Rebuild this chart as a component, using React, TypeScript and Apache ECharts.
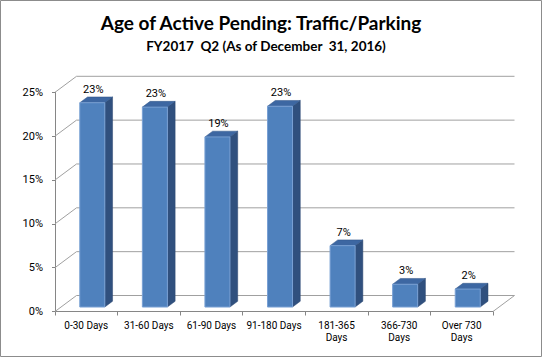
import React, { useEffect, useRef } from "react";
import * as echarts from "echarts";

const categories = [
  "0-30 Days",
  "31-60 Days",
  "61-90 Days",
  "91-180 Days",
  "181-365\nDays",
  "366-730\nDays",
  "Over 730\nDays",
];
const shares = [0.233, 0.228, 0.194, 0.229, 0.07, 0.026, 0.0205];
const yTicks = [0, 0.05, 0.1, 0.15, 0.2, 0.25];
const titleText = "Age of Active Pending: Traffic/Parking";
const subtitleText = "FY2017  Q2 (As of December  31, 2016)";

const DEPTH_X = 21.5;
const DEPTH_Y = -16;
const F0 = 0.28;
const F1 = 0.64;
const pct = (v: number) => Math.round(v * 100) + "%";

export default function App() {
  const ref = useRef<HTMLDivElement>(null);
  useEffect(() => {
    if (!ref.current) return;
    const chart = echarts.init(ref.current, null, { renderer: "svg" });
    const gridColor = "#a0a0a0";
    const axisColor = "#868686";
    const font = "Roboto, sans-serif";

    const option: any = {
      animation: false,
      backgroundColor: "#ffffff",
      grid: { left: 55, right: 49, top: 92.3, bottom: 45.5, containLabel: false },
      xAxis: {
        type: "category",
        data: categories,
        axisLine: { show: true, lineStyle: { color: axisColor, width: 1 } },
        axisTick: { show: true, length: 4, lineStyle: { color: axisColor } },
        axisLabel: {
          color: "#000",
          fontFamily: font,
          fontSize: 10,
          lineHeight: 12,
          margin: 8,
          interval: 0,
        },
        splitLine: { show: false },
      },
      yAxis: {
        type: "value",
        min: 0,
        max: 0.25,
        interval: 0.05,
        axisLine: { show: true, lineStyle: { color: axisColor, width: 1 } },
        axisTick: { show: true, length: 3, lineStyle: { color: axisColor } },
        axisLabel: {
          color: "#000",
          fontFamily: font,
          fontSize: 11,
          margin: 12,
          formatter: (v: number) => pct(v),
        },
        splitLine: { show: false },
      },
      graphic: [
        {
          type: "rect",
          shape: { x: 0.5, y: 0.5, width: 541, height: 356 },
          style: { fill: "none", stroke: "#8c8c8c", lineWidth: 1 },
          silent: true,
        },
        {
          type: "text",
          x: 261,
          y: 22.5,
          style: {
            text: titleText,
            align: "center",
            verticalAlign: "middle",
            fontFamily: "Lato, sans-serif",
            fontWeight: "bold",
            fontSize: 19,
            fill: "#000",
          },
        },
        {
          type: "text",
          x: 266,
          y: 45.5,
          style: {
            text: subtitleText,
            align: "center",
            verticalAlign: "middle",
            fontFamily: "Lato, sans-serif",
            fontWeight: "bold",
            fontSize: 13.5,
            fill: "#000",
          },
        },
      ],
      series: [
        {
          type: "custom",
          clip: false,
          z: 1,
          silent: true,
          data: yTicks.map((v) => [0, v]),
          encode: { x: 0, y: 1 },
          renderItem: (params: any, api: any) => {
            const v = api.value(1);
            const cs = params.coordSys;
            const y = api.coord([0, v])[1];
            const x0 = cs.x;
            const x1 = cs.x + cs.width;
            const ls = { stroke: gridColor, lineWidth: 1 };
            const children: any[] = [
              {
                type: "line",
                shape: { x1: x0, y1: y, x2: x0 + DEPTH_X, y2: y + DEPTH_Y },
                style: ls,
              },
              {
                type: "line",
                shape: { x1: x0 + DEPTH_X, y1: y + DEPTH_Y, x2: x1 + DEPTH_X, y2: y + DEPTH_Y },
                style: ls,
              },
            ];
            if (v === 0) {
              children.push({
                type: "line",
                shape: { x1: x1, y1: y, x2: x1 + DEPTH_X, y2: y + DEPTH_Y },
                style: ls,
              });
            }
            return { type: "group", children };
          },
        },
        {
          type: "custom",
          clip: false,
          z: 3,
          data: shares.map((v, i) => [i, v]),
          encode: { x: 0, y: 1 },
          renderItem: (params: any, api: any) => {
            const i = api.value(0);
            const v = api.value(1);
            const base = api.coord([i, 0]);
            const top = api.coord([i, v]);
            const bw = api.size([1, 0])[0];
            const w = bw * 0.4;
            const xL = base[0] - w / 2 + F0 * DEPTH_X;
            const xR = xL + w;
            const yB = base[1] + F0 * DEPTH_Y;
            const yT = top[1] + F0 * DEPTH_Y;
            const dx = (F1 - F0) * DEPTH_X;
            const dy = (F1 - F0) * DEPTH_Y;
            return {
              type: "group",
              children: [
                {
                  type: "polygon",
                  shape: { points: [[xR, yB], [xR + dx, yB + dy], [xR + dx, yT + dy], [xR, yT]] },
                  style: { fill: "#30507e", stroke: "#2a4670", lineWidth: 0.5 },
                },
                {
                  type: "polygon",
                  shape: { points: [[xL, yT], [xR, yT], [xR + dx, yT + dy], [xL + dx, yT + dy]] },
                  style: { fill: "#3d67a2", stroke: "#2f5284", lineWidth: 0.5 },
                },
                {
                  type: "rect",
                  shape: { x: xL, y: yT, width: w, height: yB - yT },
                  style: { fill: "#4f81bd", stroke: "#79a0d4", lineWidth: 1 },
                },
                {
                  type: "text",
                  x: (xL + xR) / 2 + 1,
                  y: yT + dy - 2,
                  style: {
                    text: pct(v),
                    align: "center",
                    verticalAlign: "bottom",
                    fontFamily: font,
                    fontSize: 11,
                    fill: "#000",
                  },
                },
              ],
            };
          },
        },
      ],
    };
    chart.setOption(option);
    return () => chart.dispose();
  }, []);
  return (
    <div
      ref={ref}
      style={{ position: "fixed", left: 0, top: 0, width: 542, height: 357, background: "#fff" }}
    />
  );
}
